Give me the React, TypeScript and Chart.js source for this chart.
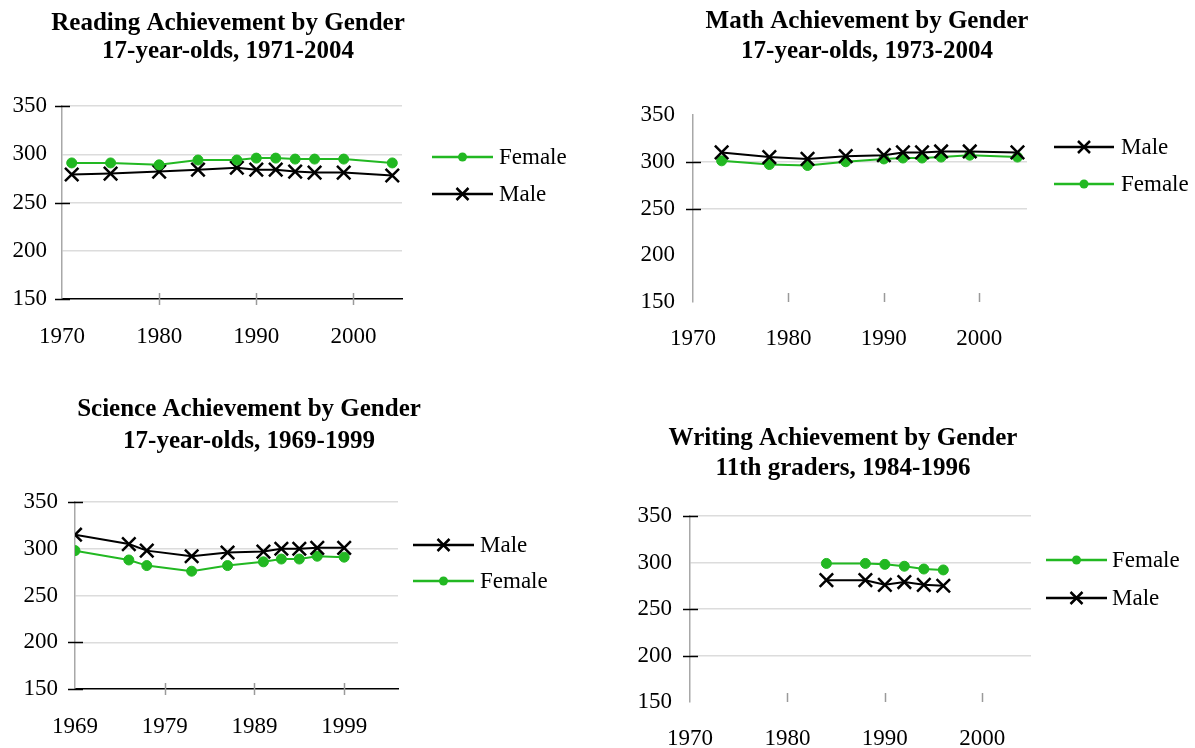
import React, { useEffect, useRef } from 'react';
import { Chart, registerables } from 'chart.js';

Chart.register(...registerables);

const FONT = '"Liberation Serif", "Times New Roman", serif';
const GREEN = '#22b822';
const BLACK = '#000000';

// ---------- Data ----------
const readingYears = [1971, 1975, 1980, 1984, 1988, 1990, 1992, 1994, 1996, 1999, 2004];
const readingFemale = [291, 291, 289, 294, 294, 296, 296, 295, 295, 295, 291];
const readingMale = [279, 280, 282, 284, 286, 284, 284, 282, 281, 281, 278];

const mathYears = [1973, 1978, 1982, 1986, 1990, 1992, 1994, 1996, 1999, 2004];
const mathMale = [310, 305, 303, 306, 307, 310, 310, 311, 311, 310];
const mathFemale = [301, 297, 296, 300, 303, 304, 304, 305, 307, 305];

const scienceYears = [1969, 1975, 1977, 1982, 1986, 1990, 1992, 1994, 1996, 1999];
const scienceMale = [315, 305, 298, 292, 296, 297, 300, 300, 301, 301];
const scienceFemale = [298, 288, 282, 276, 282, 286, 289, 289, 292, 291];

const writingYears = [1984, 1988, 1990, 1992, 1994, 1996];
const writingFemale = [299, 299, 298, 296, 293, 292];
const writingMale = [281, 281, 276, 279, 276, 275];

const yTicks = [150, 200, 250, 300, 350];
const xTicks1970 = [1970, 1980, 1990, 2000];
const xTicks1969 = [1969, 1979, 1989, 1999];

const readingTitle = ['Reading Achievement by Gender', '17-year-olds, 1971-2004'];
const mathTitle = ['Math Achievement by Gender', '17-year-olds, 1973-2004'];
const scienceTitle = ['Science Achievement by Gender', '17-year-olds, 1969-1999'];
const writingTitle = ['Writing Achievement by Gender', '11th graders, 1984-1996'];

type Series = { label: string; years: number[]; values: number[]; kind: 'female' | 'male' };

type Panel = {
  qx: number; qy: number; qw: number; qh: number;
  area: { l: number; t: number; r: number; b: number };
  title: string[]; titleX: number; titleY: number[];
  xMin: number; xMax: number; xTicks: number[];
  series: Series[];
  legendX0: number; legendX1: number; legendTextX: number; legendY: number[];
  gridValues: number[]; yMarks: number[];
  bottomAxis: boolean; xMarkMode: 'cross' | 'inside';
  labelY: number; yPad: number;
};

const female = (years: number[], values: number[]): Series => ({ label: 'Female', years, values, kind: 'female' });
const male = (years: number[], values: number[]): Series => ({ label: 'Male', years, values, kind: 'male' });

const panels: Panel[] = [
  {
    qx: 0, qy: 0, qw: 597, qh: 374,
    area: { l: 62, t: 106, r: 402, b: 299 },
    title: readingTitle, titleX: 228, titleY: [24, 52],
    xMin: 1970, xMax: 2005, xTicks: xTicks1970,
    series: [female(readingYears, readingFemale), male(readingYears, readingMale)],
    legendX0: 432, legendX1: 493, legendTextX: 499, legendY: [157, 194],
    gridValues: [200, 250, 300, 350], yMarks: [150, 250, 350],
    bottomAxis: true, xMarkMode: 'cross', labelY: 335, yPad: 15,
  },
  {
    qx: 597, qy: 0, qw: 598, qh: 374,
    area: { l: 693, t: 115, r: 1027, b: 302 },
    title: mathTitle, titleX: 867, titleY: [22, 52],
    xMin: 1970, xMax: 2005, xTicks: xTicks1970,
    series: [male(mathYears, mathMale), female(mathYears, mathFemale)],
    legendX0: 1054, legendX1: 1114, legendTextX: 1121, legendY: [147, 184],
    gridValues: [250, 300], yMarks: [250, 300],
    bottomAxis: false, xMarkMode: 'inside', labelY: 337, yPad: 18,
  },
  {
    qx: 0, qy: 374, qw: 597, qh: 374,
    area: { l: 75, t: 502, r: 398, b: 689 },
    title: scienceTitle, titleX: 249, titleY: [410, 442],
    xMin: 1969, xMax: 2005, xTicks: xTicks1969,
    series: [male(scienceYears, scienceMale), female(scienceYears, scienceFemale)],
    legendX0: 413, legendX1: 474, legendTextX: 480, legendY: [545, 581],
    gridValues: [200, 250, 300, 350], yMarks: [150, 200, 350],
    bottomAxis: true, xMarkMode: 'cross', labelY: 725, yPad: 17,
  },
  {
    qx: 597, qy: 374, qw: 598, qh: 374,
    area: { l: 690, t: 516, r: 1031, b: 702 },
    title: writingTitle, titleX: 843, titleY: [439, 469],
    xMin: 1970, xMax: 2005, xTicks: xTicks1970,
    series: [female(writingYears, writingFemale), male(writingYears, writingMale)],
    legendX0: 1046, legendX1: 1107, legendTextX: 1112, legendY: [560, 598],
    gridValues: [200, 250, 300, 350], yMarks: [200, 250, 350],
    bottomAxis: false, xMarkMode: 'inside', labelY: 737, yPad: 18,
  },
];

const TICK_SIZE = 23;
const LEGEND_SIZE = 23;
const TITLE_SIZE = 25;

function drawMarker(ctx: CanvasRenderingContext2D, kind: 'female' | 'male', x: number, y: number) {
  ctx.save();
  if (kind === 'female') {
    ctx.fillStyle = GREEN;
    ctx.beginPath();
    ctx.arc(x, y, 4.5, 0, Math.PI * 2);
    ctx.fill();
  } else {
    ctx.strokeStyle = BLACK;
    ctx.lineWidth = 2.5;
    const r = 6;
    ctx.beginPath();
    ctx.moveTo(x - r, y - r);
    ctx.lineTo(x + r, y + r);
    ctx.moveTo(x + r, y - r);
    ctx.lineTo(x - r, y + r);
    ctx.stroke();
  }
  ctx.restore();
}

function PanelChart({ p }: { p: Panel }) {
  const ref = useRef<HTMLCanvasElement | null>(null);
  useEffect(() => {
    const canvas = ref.current;
    if (!canvas) return;
    const xH = p.qy + p.qh - p.area.b;
    const decor = {
      id: 'decor',
      beforeDatasetsDraw(chart: any) {
        const ctx: CanvasRenderingContext2D = chart.ctx;
        const xs = chart.scales.x;
        const ys = chart.scales.y;
        const ca = chart.chartArea;
        ctx.save();
        ctx.strokeStyle = BLACK;
        ctx.lineWidth = 1.5;
        p.yMarks.forEach((v) => {
          const py = Math.round(ys.getPixelForValue(v)) + 0.5;
          ctx.beginPath();
          ctx.moveTo(ca.left - 7, py);
          ctx.lineTo(ca.left + 8, py);
          ctx.stroke();
        });
        ctx.strokeStyle = '#9a9a9a';
        ctx.lineWidth = 1.5;
        p.xTicks.slice(1).forEach((v) => {
          const px = Math.round(xs.getPixelForValue(v)) + 0.5;
          ctx.beginPath();
          if (p.xMarkMode === 'cross') {
            ctx.moveTo(px, ca.bottom - 6);
            ctx.lineTo(px, ca.bottom + 6);
          } else {
            ctx.moveTo(px, ca.bottom - 9);
            ctx.lineTo(px, ca.bottom);
          }
          ctx.stroke();
        });
        ctx.restore();
      },
      afterDraw(chart: any) {
        const ctx: CanvasRenderingContext2D = chart.ctx;
        ctx.save();
        ctx.fillStyle = BLACK;
        ctx.textAlign = 'center';
        ctx.textBaseline = 'middle';
        ctx.font = `bold ${TITLE_SIZE}px ${FONT}`;
        p.title.forEach((t, i) => ctx.fillText(t, p.titleX - p.qx, p.titleY[i] - p.qy));
        ctx.font = `${LEGEND_SIZE}px ${FONT}`;
        ctx.textAlign = 'left';
        p.series.forEach((s, i) => {
          const y = p.legendY[i] - p.qy;
          const x0 = p.legendX0 - p.qx;
          const x1 = p.legendX1 - p.qx;
          ctx.strokeStyle = s.kind === 'female' ? GREEN : BLACK;
          ctx.lineWidth = 2.5;
          ctx.beginPath();
          ctx.moveTo(x0, y);
          ctx.lineTo(x1, y);
          ctx.stroke();
          drawMarker(ctx, s.kind, (x0 + x1) / 2, y);
          ctx.fillStyle = BLACK;
          ctx.fillText(s.label, p.legendTextX - p.qx, y + 1);
        });
        ctx.restore();
      },
    };

    const chart = new Chart(canvas, {
      type: 'line',
      data: {
        datasets: p.series.map((s) => ({
          label: s.label,
          data: s.years.map((yr, i) => ({ x: yr, y: s.values[i] })),
          borderColor: s.kind === 'female' ? GREEN : BLACK,
          backgroundColor: s.kind === 'female' ? GREEN : 'rgba(0,0,0,0)',
          pointBackgroundColor: s.kind === 'female' ? GREEN : 'rgba(0,0,0,0)',
          pointBorderColor: s.kind === 'female' ? GREEN : BLACK,
          pointStyle: s.kind === 'female' ? 'circle' : 'crossRot',
          pointRadius: s.kind === 'female' ? 5 : 9.5,
          pointBorderWidth: s.kind === 'female' ? 1 : 2.5,
          borderWidth: 2,
          tension: 0,
          fill: false,
        })),
      },
      options: {
        responsive: false,
        animation: false,
        devicePixelRatio: 1,
        layout: {
          padding: {
            left: 0,
            top: p.area.t - p.qy,
            right: p.qx + p.qw - p.area.r,
            bottom: 0,
          },
        },
        plugins: {
          legend: { display: false },
          title: { display: false },
          tooltip: { enabled: false },
        },
        scales: {
          x: {
            type: 'linear',
            min: p.xMin,
            max: p.xMax,
            afterBuildTicks: (s: any) => {
              s.ticks = p.xTicks.map((v) => ({ value: v }));
            },
            afterFit: (s: any) => {
              s.height = xH;
            },
            grid: { display: false, drawTicks: false },
            border: { display: p.bottomAxis, color: BLACK, width: 1.5 },
            ticks: {
              autoSkip: false,
              maxRotation: 0,
              padding: p.labelY - p.area.b - 12,
              color: BLACK,
              font: { family: FONT, size: TICK_SIZE },
              callback: (v: any) => String(v),
            },
          },
          y: {
            min: 150,
            max: 350,
            afterBuildTicks: (s: any) => {
              s.ticks = yTicks.map((v) => ({ value: v }));
            },
            afterFit: (s: any) => {
              s.width = p.area.l - p.qx;
            },
            grid: {
              drawTicks: false,
              lineWidth: 1.5,
              color: (c: any) =>
                c.tick && p.gridValues.includes(c.tick.value) ? '#dcdcdc' : 'rgba(0,0,0,0)',
            },
            border: { display: true, color: '#a8a8a8', width: 1.5 },
            ticks: {
              padding: p.yPad,
              color: BLACK,
              font: { family: FONT, size: TICK_SIZE },
            },
          },
        },
      },
      plugins: [decor],
    } as any);
    return () => chart.destroy();
  }, [p]);
  return (
    <canvas
      ref={ref}
      width={p.qw}
      height={p.qh}
      style={{ position: 'absolute', left: p.qx, top: p.qy, width: p.qw, height: p.qh }}
    />
  );
}

export default function App() {
  return (
    <div style={{ position: 'fixed', left: 0, top: 0, width: 1195, height: 748, background: '#fff' }}>
      {panels.map((p, i) => (
        <PanelChart key={i} p={p} />
      ))}
    </div>
  );
}
